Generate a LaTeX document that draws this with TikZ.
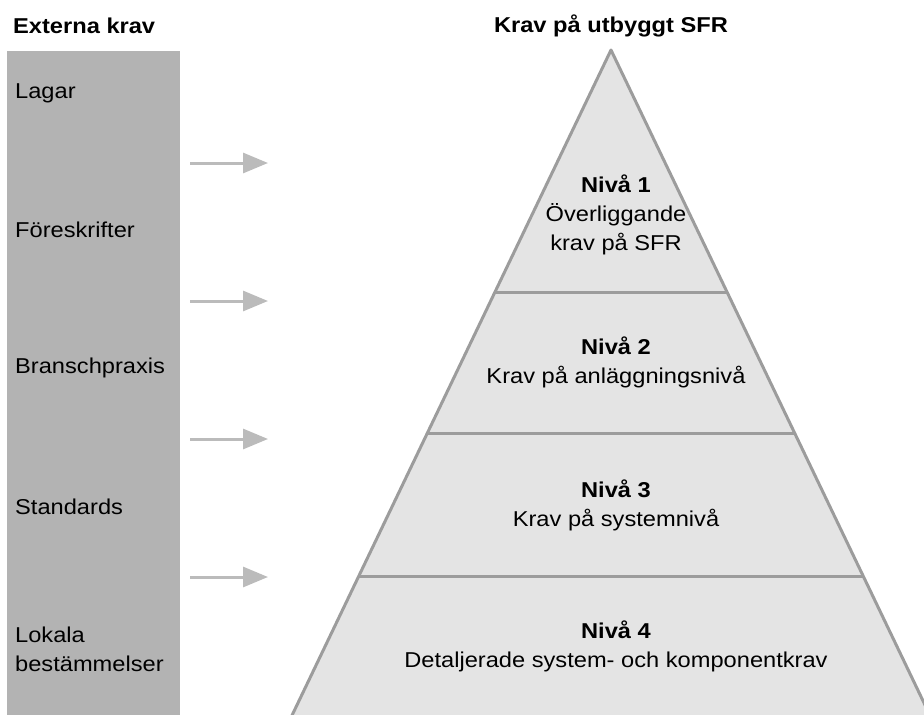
\documentclass[tikz,border=0pt]{standalone}
\usepackage{fontspec}
\setmainfont[FakeStretch=1.1]{Liberation Sans}
\usetikzlibrary{arrows.meta}
\definecolor{stapel}{HTML}{B3B3B3}
\definecolor{pyrfyll}{HTML}{E4E4E4}
\definecolor{pyrkant}{HTML}{9C9C9C}
\definecolor{pilgra}{HTML}{BBBBBB}
\begin{document}
\begin{tikzpicture}[x=1pt,y=-1pt,
  rubrik/.style={font=\fontsize{21.5}{26}\selectfont\bfseries, inner sep=0pt},
  krav/.style={font=\fontsize{21.5}{29}\selectfont, anchor=west, align=left, inner sep=0pt},
  niva/.style={font=\fontsize{21.5}{29}\selectfont, align=center, inner sep=0pt},
  pil/.style={-{Triangle[length=25pt,width=20pt]}, line width=3pt, color=pilgra}]
\useasboundingbox (0,0) rectangle (924,715);
\clip (0,0) rectangle (924,715);

% rubriker
\node[rubrik, anchor=west] (extern) at (13,26) {Externa krav};
\node[rubrik] (sfr) at (611,26) {Krav på utbyggt SFR};

% grå stapel
\fill[stapel] (7,51) rectangle (180,720);
\node[krav] (lagar) at (15,93) {Lagar};
\node[krav] (fore) at (15,230) {Föreskrifter};
\node[krav] (bransch) at (15,368) {Branschpraxis};
\node[krav] (std) at (15,507) {Standards};
\node[krav] (lokala) at (15,649) {Lokala\\bestämmelser};

% pyramid
\coordinate (topp) at (611,50);
\fill[pyrfyll] (topp) -- (937,730) -- (285,730) -- cycle;
\draw[pyrkant, line width=3pt] (495,292) -- (727,292);
\draw[pyrkant, line width=3pt] (427,433) -- (795,433);
\draw[pyrkant, line width=3pt] (358.5,576) -- (863.5,576);
\draw[pyrkant, line width=3pt, line join=round] (285,730) -- (topp) -- (937,730);

\node[niva] (niva1) at (616,215) {\textbf{Nivå 1}\\Överliggande\\krav på SFR};
\node[niva] (niva2) at (616,362) {\textbf{Nivå 2}\\Krav på anläggningsnivå};
\node[niva] (niva3) at (616,505) {\textbf{Nivå 3}\\Krav på systemnivå};
\node[niva] (niva4) at (616,646) {\textbf{Nivå 4}\\Detaljerade system- och komponentkrav};

% pilar
\foreach \y [count=\i] in {163,301,439,577}{
  \coordinate (p\i a) at (190,\y);
  \coordinate (p\i b) at (268,\y);
  \draw[pil] (p\i a) -- (p\i b);
}
\end{tikzpicture}
\end{document}
